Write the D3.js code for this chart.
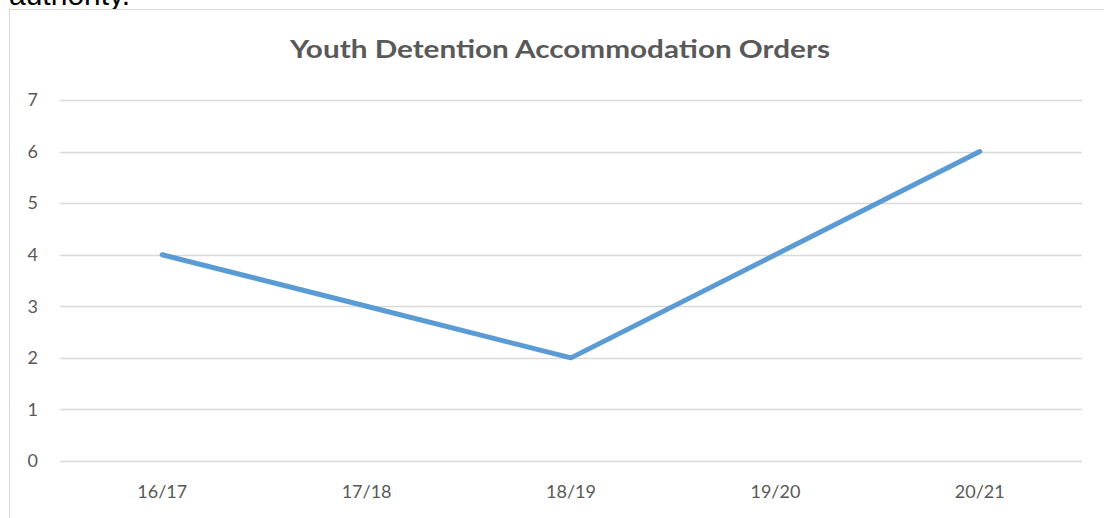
<!DOCTYPE html>
<html>
<head>
<meta charset="utf-8">
<script src="https://cdn.jsdelivr.net/npm/d3@7"></script>
<style>
  body { margin: 0; background: #fff; }
  svg { display: block; }
</style>
</head>
<body>
<div id="chart"></div>
<script>
// chart data
const years = ["16/17", "17/18", "18/19", "19/20", "20/21"];
const orders = [4, 3, 2, 4, 6];
const yTicks = [0, 1, 2, 3, 4, 5, 6, 7];
const chartTitle = "Youth Detention Accommodation Orders";

const W = 1104, H = 518;
const margin = {top: 100, right: 22, bottom: 57, left: 60};
const width = W - margin.left - margin.right,
      height = H - margin.top - margin.bottom;

const svg = d3.select("#chart")
    .append("svg")
    .attr("width", W)
    .attr("height", H);

// end of the paragraph above the chart, clipped by the top edge
svg.append("text")
    .attr("x", 9)
    .attr("y", 5)
    .attr("font-family", "Liberation Sans, Arial, sans-serif")
    .attr("font-size", 30)
    .attr("fill", "#000")
    .text("authority.");

// chart frame
svg.append("rect")
    .attr("x", 9.5)
    .attr("y", 9.5)
    .attr("width", W)
    .attr("height", H)
    .attr("fill", "#fff")
    .attr("stroke", "#d9d9d9")
    .attr("stroke-width", 1);

svg.append("text")
    .attr("x", 560)
    .attr("y", 58)
    .attr("text-anchor", "middle")
    .attr("font-family", "Lato, sans-serif")
    .attr("font-weight", "bold")
    .attr("font-size", 24)
    .attr("fill", "#595959")
    .attr("textLength", 540)
    .attr("lengthAdjust", "spacingAndGlyphs")
    .text(chartTitle);

const g = svg.append("g")
    .attr("transform", "translate(" + margin.left + "," + margin.top + ")");

const x = d3.scaleBand()
    .domain(years)
    .range([0, width]);

const y = d3.scaleLinear()
    .domain([0, 7])
    .range([height, 0]);

// gridlines
g.selectAll(".grid")
    .data(yTicks)
    .enter()
    .append("line")
    .attr("x1", 0)
    .attr("x2", width)
    .attr("y1", d => Math.round(y(d)) + 0.5)
    .attr("y2", d => Math.round(y(d)) + 0.5)
    .attr("stroke", "#d9d9d9")
    .attr("stroke-width", 1.5);

// y axis labels
const yAxis = g.append("g")
    .call(d3.axisLeft(y).tickValues(yTicks).tickFormat(d3.format("d")).tickSize(0).tickPadding(22));
yAxis.select(".domain").remove();
yAxis.selectAll("text")
    .attr("font-family", "Lato, sans-serif")
    .attr("font-size", 18)
    .attr("fill", "#595959");

// x axis labels
const xAxis = g.append("g")
    .attr("transform", "translate(0," + height + ")")
    .call(d3.axisBottom(x).tickSize(0).tickPadding(24));
xAxis.select(".domain").remove();
xAxis.selectAll("text")
    .attr("font-family", "Lato, sans-serif")
    .attr("font-size", 18)
    .attr("fill", "#595959");

// line
const line = d3.line()
    .x((d, i) => x(years[i]) + x.bandwidth() / 2)
    .y(d => y(d));

g.append("path")
    .datum(orders)
    .attr("d", line)
    .attr("fill", "none")
    .attr("stroke", "#5b9bd5")
    .attr("stroke-width", 5)
    .attr("stroke-linejoin", "round")
    .attr("stroke-linecap", "round");
</script>
</body>
</html>
